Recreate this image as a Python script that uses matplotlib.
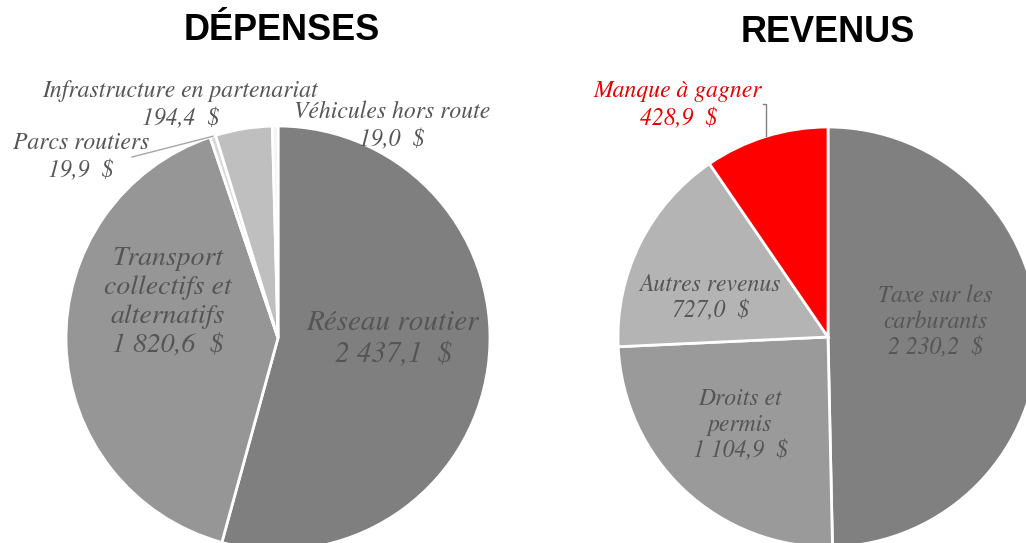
import numpy as np
import matplotlib
matplotlib.use("Agg")
import matplotlib.pyplot as plt

# données (en M$)
dep_labels = ["Réseau routier", "Transport\ncollectifs et\nalternatifs", "Parcs routiers",
              "Infrastructure en partenariat", "Véhicules hors route"]
dep_values = [2437.1, 1820.6, 19.9, 194.4, 19.0]
dep_colors = ["#7f7f7f", "#969696", "#d9d9d9", "#bfbfbf", "#f2f2f2"]

rev_labels = ["Taxe sur les\ncarburants", "Droits et\npermis", "Autres revenus", "Manque à gagner"]
rev_values = [2230.2, 1104.9, 727.0, 428.9]
rev_colors = ["#808080", "#9a9a9a", "#b4b4b4", "#ff0000"]

W, H = 1026, 543


def fmt(v):
    s = f"{v:,.1f}".replace(",", " ").replace(".", ",")
    return s + "  $"


fig = plt.figure(figsize=(W / 100, H / 100), dpi=100)
ax = fig.add_axes([0, 0, 1, 1])

SERIF = ["STIXGeneral", "Liberation Serif", "DejaVu Serif"]
serif = dict(family=SERIF, style="italic", color="#555555")

w_dep, _ = ax.pie(dep_values, colors=dep_colors, startangle=90, counterclock=False,
                  center=(278, H - 338), radius=212, frame=True,
                  wedgeprops=dict(edgecolor="white", linewidth=2))
w_rev, _ = ax.pie(rev_values, colors=rev_colors, startangle=90, counterclock=False,
                  center=(828, H - 337), radius=210, frame=True,
                  wedgeprops=dict(edgecolor="white", linewidth=2))

ax.set_xlim(0, W)
ax.set_ylim(0, H)
ax.set_aspect("equal")
ax.axis("off")

# titres
ax.text(282, H - 31, "DÉPENSES", ha="center", va="center", fontsize=26,
        fontweight="bold", family="Liberation Sans", color="black")
ax.text(828, H - 33, "REVENUS", ha="center", va="center", fontsize=26,
        fontweight="bold", family="Liberation Sans", color="black")

# étiquettes dépenses
ax.text(393, H - 339, dep_labels[0] + "\n" + fmt(dep_values[0]), ha="center", va="center",
        fontsize=21, linespacing=1.25, **serif)
ax.text(168, H - 302, dep_labels[1] + "\n" + fmt(dep_values[1]), ha="center", va="center",
        fontsize=20, linespacing=1.22, **serif)
ax.text(81, H - 157, dep_labels[2] + "\n" + fmt(dep_values[2]), ha="center", va="center",
        fontsize=17, linespacing=1.3, **serif)
ax.text(180, H - 105, dep_labels[3] + "\n" + fmt(dep_values[3]), ha="center", va="center",
        fontsize=17, linespacing=1.3, **serif)
ax.text(392, H - 126, dep_labels[4] + "\n" + fmt(dep_values[4]), ha="center", va="center",
        fontsize=17, linespacing=1.3, **serif)

# ligne de rappel "Parcs routiers"
wp = w_dep[2]
a = np.deg2rad((wp.theta1 + wp.theta2) / 2)
px, py = 278 + 212 * np.cos(a), H - 338 + 212 * np.sin(a)
ax.plot([132, px], [H - 157, py], color="#a6a6a6", lw=1)

# étiquettes revenus
ax.text(935, H - 322, rev_labels[0] + "\n" + fmt(rev_values[0]), ha="center", va="center",
        fontsize=17, linespacing=1.2, **serif)
ax.text(740, H - 425, rev_labels[1] + "\n" + fmt(rev_values[1]), ha="center", va="center",
        fontsize=17, linespacing=1.2, **serif)
ax.text(710, H - 298, rev_labels[2] + "\n" + fmt(rev_values[2]), ha="center", va="center",
        fontsize=17, linespacing=1.2, **serif)
ax.text(678, H - 105, rev_labels[3] + "\n" + fmt(rev_values[3]), ha="center", va="center",
        fontsize=17, linespacing=1.3, family=SERIF, style="italic", color="#e00000")

# ligne de rappel "Manque à gagner"
wm = w_rev[3]
a = np.deg2rad((wm.theta1 + wm.theta2) / 2)
mx, my = 828 + 210 * np.cos(a), H - 337 + 210 * np.sin(a)
ax.plot([763, mx, mx], [H - 104, H - 104, my], color="#808080", lw=1)

fig.savefig("out.png", dpi=100)
